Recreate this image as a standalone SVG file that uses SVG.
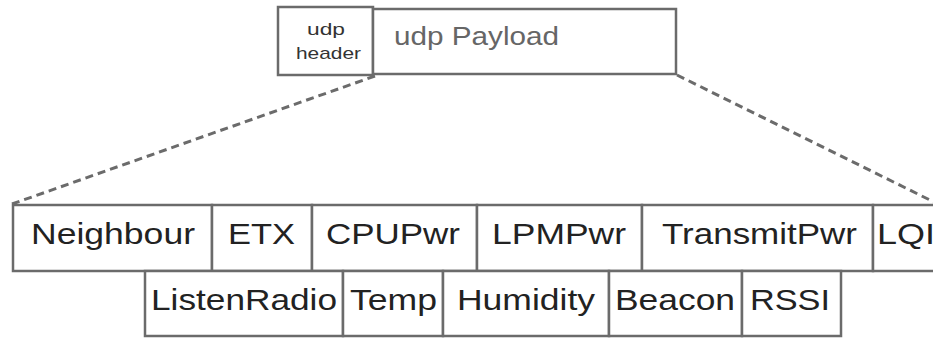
<svg xmlns="http://www.w3.org/2000/svg" width="933" height="338" viewBox="0 0 933 338">
  <style>
    .box { fill: #ffffff; stroke: #6b6b6b; stroke-width: 2.5; }
    .field { font-family: "Liberation Sans", Arial, sans-serif; font-size: 30px; fill: #222222; }
    .hdr { font-family: "Liberation Sans", Arial, sans-serif; font-size: 17px; fill: #333333; }
    .pay { font-family: "Liberation Sans", Arial, sans-serif; font-size: 25px; fill: #666666; }
    .dash { fill: none; stroke: #6b6b6b; stroke-width: 3; stroke-dasharray: 8 5; }
  </style>
  <rect width="933" height="338" fill="#ffffff"/>

  <!-- expansion lines from payload to field layout -->
  <g id="connectors">
    <line class="dash" x1="375" y1="76" x2="12" y2="204"/>
    <line class="dash" x1="677" y1="75" x2="940" y2="205"/>
  </g>

  <!-- UDP packet -->
  <g id="udp-header">
    <rect class="box" x="278" y="7" width="95" height="68"/>
    <text class="hdr" x="307" y="35" textLength="38" lengthAdjust="spacingAndGlyphs">udp</text>
    <text class="hdr" x="296" y="59" textLength="65" lengthAdjust="spacingAndGlyphs">header</text>
  </g>
  <g id="udp-payload">
    <rect class="box" x="373" y="9" width="303" height="65"/>
    <text class="pay" x="394" y="45" textLength="165" lengthAdjust="spacingAndGlyphs">udp Payload</text>
  </g>

  <!-- first row of payload fields -->
  <g id="neighbour">
    <rect class="box" x="13" y="205" width="199" height="66"/>
    <text class="field" x="31" y="244" textLength="164" lengthAdjust="spacingAndGlyphs">Neighbour</text>
  </g>
  <g id="etx">
    <rect class="box" x="212" y="205" width="100" height="66"/>
    <text class="field" x="228" y="244" textLength="67" lengthAdjust="spacingAndGlyphs">ETX</text>
  </g>
  <g id="cpupwr">
    <rect class="box" x="312" y="205" width="165" height="66"/>
    <text class="field" x="326" y="244" textLength="134" lengthAdjust="spacingAndGlyphs">CPUPwr</text>
  </g>
  <g id="lpmpwr">
    <rect class="box" x="477" y="205" width="165" height="66"/>
    <text class="field" x="492" y="244" textLength="134" lengthAdjust="spacingAndGlyphs">LPMPwr</text>
  </g>
  <g id="transmitpwr">
    <rect class="box" x="642" y="205" width="231" height="66"/>
    <text class="field" x="662" y="244" textLength="195" lengthAdjust="spacingAndGlyphs">TransmitPwr</text>
  </g>
  <g id="lqi">
    <rect class="box" x="873" y="205" width="80" height="66"/>
    <text class="field" x="877" y="244" textLength="58" lengthAdjust="spacingAndGlyphs">LQI</text>
  </g>

  <!-- second row of payload fields -->
  <g id="listenradio">
    <rect class="box" x="145" y="271" width="198" height="65"/>
    <text class="field" x="151" y="310" textLength="186" lengthAdjust="spacingAndGlyphs">ListenRadio</text>
  </g>
  <g id="temp">
    <rect class="box" x="343" y="271" width="100" height="65"/>
    <text class="field" x="350" y="310" textLength="87" lengthAdjust="spacingAndGlyphs">Temp</text>
  </g>
  <g id="humidity">
    <rect class="box" x="443" y="271" width="166" height="65"/>
    <text class="field" x="457" y="310" textLength="138" lengthAdjust="spacingAndGlyphs">Humidity</text>
  </g>
  <g id="beacon">
    <rect class="box" x="609" y="271" width="133" height="65"/>
    <text class="field" x="615" y="310" textLength="120" lengthAdjust="spacingAndGlyphs">Beacon</text>
  </g>
  <g id="rssi">
    <rect class="box" x="742" y="271" width="99" height="65"/>
    <text class="field" x="750" y="310" textLength="80" lengthAdjust="spacingAndGlyphs">RSSI</text>
  </g>
</svg>
